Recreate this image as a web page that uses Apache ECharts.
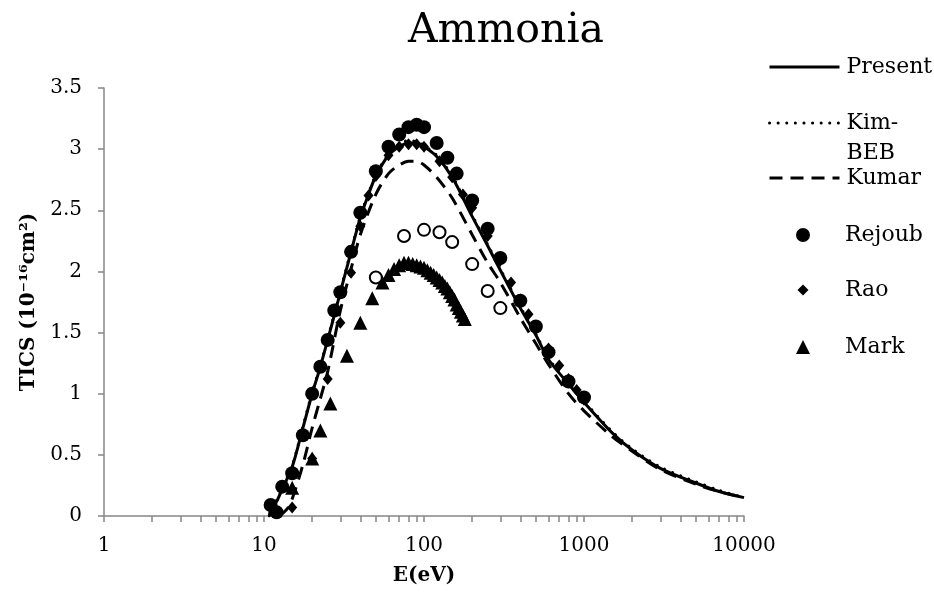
<!DOCTYPE html>
<html>
<head>
<meta charset="utf-8">
<title>Ammonia</title>
<script src="https://cdn.jsdelivr.net/npm/echarts@6/dist/echarts.min.js"></script>
<style>
  html, body { margin: 0; padding: 0; background: #fff; }
  #chart { width: 934px; height: 603px; }
</style>
</head>
<body>
<div id="chart"></div>
<script>
// energies (eV) and cross sections (10^-16 cm^2)
const presentE = [10.8, 11, 12, 13, 15, 17.5, 20, 22.5, 25, 27.5, 30, 35, 40, 45, 50, 60, 70, 80, 90, 100, 120, 150, 200, 250, 300, 400, 500, 600, 800, 1000, 1500, 2000, 3000, 5000, 7000, 10000];
const presentV = [0, 0.05, 0.12, 0.22, 0.40, 0.72, 1.00, 1.22, 1.44, 1.64, 1.83, 2.16, 2.44, 2.63, 2.78, 2.95, 3.02, 3.05, 3.05, 3.02, 2.94, 2.77, 2.45, 2.21, 2.01, 1.70, 1.48, 1.28, 1.08, 0.93, 0.68, 0.54, 0.39, 0.27, 0.20, 0.15];
const kimV = [0, 0.06, 0.13, 0.23, 0.41, 0.73, 1.01, 1.23, 1.45, 1.65, 1.84, 2.17, 2.45, 2.64, 2.79, 2.96, 3.04, 3.07, 3.06, 3.03, 2.95, 2.78, 2.46, 2.22, 2.02, 1.71, 1.49, 1.29, 1.09, 0.94, 0.69, 0.55, 0.40, 0.28, 0.21, 0.15];

const kumarE = [12.5, 14, 15, 17.5, 20, 22.5, 25, 30, 35, 40, 50, 60, 70, 80, 90, 100, 120, 150, 200, 250, 300, 400, 500, 600, 800, 1000, 1500, 2000, 3000, 5000, 7000, 10000];
const kumarV = [0, 0.06, 0.14, 0.42, 0.72, 0.96, 1.18, 1.68, 2.02, 2.30, 2.63, 2.80, 2.87, 2.90, 2.90, 2.87, 2.77, 2.60, 2.30, 2.07, 1.91, 1.62, 1.41, 1.24, 1.00, 0.86, 0.65, 0.53, 0.38, 0.26, 0.20, 0.15];

const rejoubE = [11, 12, 13, 15, 17.5, 20, 22.5, 25, 27.5, 30, 35, 40, 50, 60, 70, 80, 90, 100, 120, 140, 160, 200, 250, 300, 400, 500, 600, 800, 1000];
const rejoubV = [0.09, 0.03, 0.24, 0.35, 0.66, 1.00, 1.22, 1.44, 1.68, 1.83, 2.16, 2.48, 2.82, 3.02, 3.12, 3.18, 3.20, 3.18, 3.05, 2.93, 2.80, 2.58, 2.35, 2.11, 1.76, 1.55, 1.34, 1.10, 0.97];

const raoE = [15, 20, 25, 30, 35, 40, 45, 50, 60, 70, 80, 90, 100, 125, 150, 175, 200, 250, 300, 350, 400, 450, 500, 600, 700, 800, 900, 1000];
const raoV = [0.07, 0.47, 1.12, 1.58, 1.99, 2.37, 2.62, 2.78, 2.95, 3.02, 3.04, 3.04, 3.02, 2.90, 2.77, 2.63, 2.52, 2.29, 2.09, 1.91, 1.77, 1.65, 1.54, 1.37, 1.23, 1.12, 1.03, 0.95];

const markE = [15, 20, 22.5, 26, 33, 40, 47.5, 55, 60, 65, 70, 75, 80, 85, 90, 95, 100, 105, 110, 115, 120, 125, 130, 135, 140, 145, 150, 155, 160, 165, 170, 175, 180];
const markV = [0.23, 0.47, 0.70, 0.92, 1.31, 1.58, 1.78, 1.91, 1.97, 2.02, 2.05, 2.07, 2.07, 2.06, 2.05, 2.04, 2.03, 2.01, 1.99, 1.97, 1.95, 1.93, 1.91, 1.88, 1.86, 1.83, 1.80, 1.77, 1.73, 1.70, 1.67, 1.64, 1.61];

// open circles (no legend entry)
const openE = [50, 75, 100, 125, 150, 200, 250, 300];
const openV = [1.95, 2.29, 2.34, 2.32, 2.24, 2.06, 1.84, 1.70];

const xDecades = [1, 10, 100, 1000, 10000];
const yTicks = [0, 0.5, 1, 1.5, 2, 2.5, 3, 3.5];

const pairs = (xs, ys) => xs.map((x, i) => [x, ys[i]]);

// minor ticks at 2..9 of each decade
const xTickValues = [];
xDecades.forEach((d, i) => {
  if (i === xDecades.length - 1) { xTickValues.push(d); return; }
  for (let m = 1; m < 10; m++) xTickValues.push(d * m);
});

const serif = 'DejaVu Serif';
const axisGray = '#868686';
const legendTextX = 845; // where legend labels start
const iconCenterX = 803; // centre of the legend marks
const dotted = [0.1, 8.5];
const dashed = [13, 8];

const chart = echarts.init(document.getElementById('chart'));

// legend row for a line series: 70px line, its symbol hidden
function lineRow(name, centerY, extra) {
  return Object.assign({
    data: [name],
    left: 768,
    top: centerY - 13,
    padding: 0,
    itemWidth: 70,
    itemHeight: 14,
    selectedMode: false,
    itemStyle: { opacity: 0 },
    lineStyle: { width: 3 },
    textStyle: { fontFamily: serif, fontSize: 22, lineHeight: 26, color: '#000', padding: [0, 0, 0, 2] }
  }, extra || {});
}

// legend row for a scatter series: a single mark centred under the lines
function markRow(name, centerY, size) {
  const left = iconCenterX - size / 2;
  return {
    data: [name],
    left: left,
    top: centerY - 13,
    padding: 0,
    itemWidth: size,
    itemHeight: size,
    selectedMode: false,
    textStyle: {
      fontFamily: serif, fontSize: 22, lineHeight: 26, color: '#000',
      padding: [0, 0, 0, legendTextX - (left + size + 5)]
    }
  };
}

const option = {
  animation: false,
  backgroundColor: '#fff',
  title: {
    text: 'Ammonia',
    left: 403,
    top: 6,
    textStyle: { fontFamily: serif, fontSize: 41, fontWeight: 'normal', color: '#000' }
  },
  legend: [
    lineRow('Present', 67),
    lineRow('Kim-BEB', 123, {
      top: 123 - 45,
      formatter: () => '\nKim-\nBEB',
      textStyle: { fontFamily: serif, fontSize: 22, lineHeight: 30, color: '#000', padding: [0, 0, 0, 2] }
    }),
    lineRow('Kumar', 178),
    markRow('Rejoub', 235, 14),
    markRow('Rao', 290, 11),
    markRow('Mark', 347, 14)
  ],
  grid: { left: 104, right: 190, top: 88, bottom: 87 },
  xAxis: {
    type: 'log',
    logBase: 10,
    min: 1,
    max: 10000,
    name: 'E(eV)',
    nameLocation: 'middle',
    nameGap: 50,
    nameTextStyle: { fontFamily: serif, fontSize: 20, fontWeight: 'bold', color: '#000' },
    axisLine: { lineStyle: { color: axisGray, width: 1.5 } },
    axisTick: { length: 6, lineStyle: { color: axisGray, width: 1.5 }, customValues: xTickValues },
    axisLabel: {
      margin: 20, fontFamily: serif, fontSize: 20, color: '#000',
      customValues: xDecades, formatter: (v) => String(v)
    },
    splitLine: { show: false }
  },
  yAxis: {
    type: 'value',
    min: 0,
    max: 3.5,
    interval: 0.5,
    name: 'TICS (10⁻¹⁶cm²)',
    nameLocation: 'middle',
    nameGap: 64,
    nameTextStyle: { fontFamily: serif, fontSize: 20, fontWeight: 'bold', color: '#000' },
    axisLine: { show: true, lineStyle: { color: axisGray, width: 1.5 } },
    axisTick: { show: true, length: 6, lineStyle: { color: axisGray, width: 1.5 }, customValues: yTicks },
    axisLabel: { margin: 22, fontFamily: serif, fontSize: 20, color: '#000' },
    splitLine: { show: false }
  },
  series: [
    {
      name: 'Present', type: 'line', data: pairs(presentE, presentV),
      symbol: 'none', smooth: 0.3,
      lineStyle: { color: '#000', width: 3 }, itemStyle: { color: '#000' }
    },
    {
      name: 'Kim-BEB', type: 'line', data: pairs(presentE, kimV),
      symbol: 'none', smooth: 0.3,
      lineStyle: { color: '#000', width: 3, type: dotted, cap: 'round' }, itemStyle: { color: '#000' }
    },
    {
      name: 'Kumar', type: 'line', data: pairs(kumarE, kumarV),
      symbol: 'none', smooth: 0.3,
      lineStyle: { color: '#000', width: 3, type: dashed }, itemStyle: { color: '#000' }
    },
    {
      name: 'Rejoub', type: 'scatter', data: pairs(rejoubE, rejoubV),
      symbol: 'circle', symbolSize: 14, itemStyle: { color: '#000', opacity: 1 }
    },
    {
      name: 'Rao', type: 'scatter', data: pairs(raoE, raoV),
      symbol: 'diamond', symbolSize: [10, 12], itemStyle: { color: '#000', opacity: 1 }
    },
    {
      name: 'Mark', type: 'scatter', data: pairs(markE, markV),
      symbol: 'triangle', symbolSize: 14, itemStyle: { color: '#000', opacity: 1 }
    },
    {
      name: 'Open', type: 'scatter', data: pairs(openE, openV),
      symbol: 'circle', symbolSize: 12,
      itemStyle: { color: '#fff', borderColor: '#000', borderWidth: 2, opacity: 1 }
    }
  ]
};

chart.setOption(option);
</script>
</body>
</html>
